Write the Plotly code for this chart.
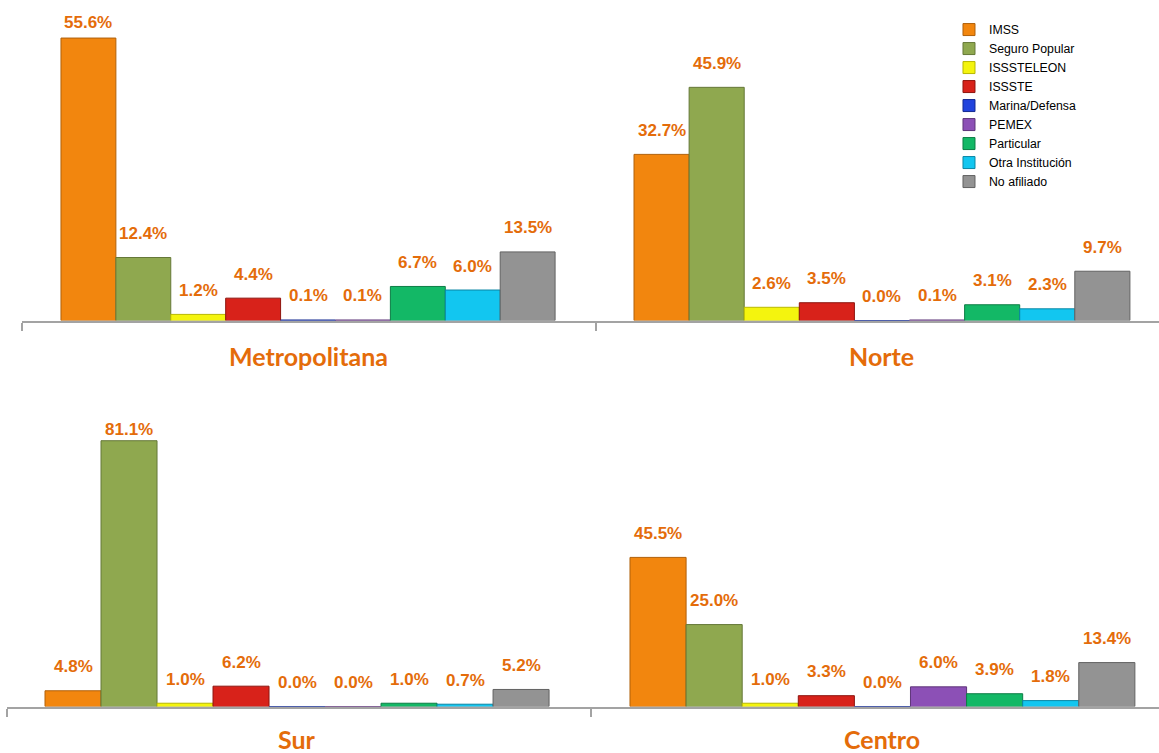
import plotly.graph_objects as go

# Coverage by institution, percentage of respondents per region
institutions = ["IMSS", "Seguro Popular", "ISSSTELEON", "ISSSTE", "Marina/Defensa",
                "PEMEX", "Particular", "Otra Institución", "No afiliado"]
regions = ["Metropolitana", "Norte", "Sur", "Centro"]

metropolitana = [55.6, 12.4, 1.2, 4.4, 0.1, 0.1, 6.7, 6.0, 13.5]
norte = [32.7, 45.9, 2.6, 3.5, 0.0, 0.1, 3.1, 2.3, 9.7]
sur = [4.8, 81.1, 1.0, 6.2, 0.0, 0.0, 1.0, 0.7, 5.2]
centro = [45.5, 25.0, 1.0, 3.3, 0.0, 6.0, 3.9, 1.8, 13.4]

region_values = [metropolitana, norte, sur, centro]

# Bar fills and darker outlines, one pair per institution
fills = ["#F2860E", "#8FA84F", "#F4F40E", "#D8221A", "#2143DD",
         "#8C50B6", "#13B866", "#12C6F0", "#939393"]
edges = ["#B0600A", "#657838", "#B8B800", "#8E150F", "#142A90",
         "#5E3579", "#0C7D45", "#0A86A4", "#626262"]

LABEL = "#E46C0A"
AXIS = "#A3A3A3"
W, H = 1159, 753

# Panel geometry in pixels: x-domain, x-range, baseline, y-range,
# px per percentage point, highest allowed label centre, title offset
panels = [
    dict(dom=(22, 595.5), xr=(-1.210, 9.236), base=320.5, ymax=58, k=5.08, top=297.5, title=-35, ticks="both"),
    dict(dom=(595.5, W), xr=(-1.199, 9.028), base=320.5, ymax=58, k=5.08, top=297.5, title=-35, ticks="left"),
    dict(dom=(6.5, 590.5), xr=(-1.1875, 9.24), base=706.5, ymax=88, k=3.277, top=276.5, title=-32, ticks="both"),
    dict(dom=(590.5, W), xr=(-1.204, 8.93), base=706.5, ymax=88, k=3.277, top=276.5, title=-32, ticks="left"),
]

fig = go.Figure()
annotations = []

for p_i, (region, values, p) in enumerate(zip(regions, region_values, panels)):
    sfx = "" if p_i == 0 else str(p_i + 1)
    xa, ya = "x" + sfx, "y" + sfx
    for i, (name, v) in enumerate(zip(institutions, values)):
        fig.add_trace(go.Bar(
            x=[i], y=[v], width=1, name=name,
            marker=dict(color=fills[i], line=dict(color=edges[i], width=1)),
            xaxis=xa, yaxis=ya, legendgroup=name, showlegend=(p_i == 0),
            hovertemplate=f"{region}<br>{name}: %{{y:.1f}}%<extra></extra>",
        ))
        # value label above the bar, kept inside the panel's label band
        shift = min(24, p["top"] - v * p["k"])
        annotations.append(dict(
            x=i, y=v, xref=xa, yref=ya, text=f"{v:.1f}%", showarrow=False,
            yshift=shift, yanchor="middle",
            font=dict(family="Liberation Sans, Arial, sans-serif", size=17, color=LABEL, weight="bold"),
        ))
    # region name under the axis
    annotations.append(dict(
        x=4, y=0, xref=xa, yref=ya + " domain", text=f"<b>{region}</b>", showarrow=False,
        yshift=p["title"], yanchor="middle",
        font=dict(family="Lato, Open Sans, sans-serif", size=25, color=LABEL),
    ))

    lo, hi = p["xr"]
    tickvals = [lo, hi] if p["ticks"] == "both" else [lo]
    y0 = (H - p["base"]) / H
    y1 = (H - p["base"] + p["ymax"] * p["k"]) / H
    fig.layout["xaxis" + sfx] = dict(
        domain=[p["dom"][0] / W, p["dom"][1] / W], range=[lo, hi], anchor=ya,
        showgrid=False, zeroline=False, showline=True, linecolor=AXIS, linewidth=2,
        ticks="outside", ticklen=8, tickwidth=2, tickcolor=AXIS,
        tickvals=tickvals, showticklabels=False, fixedrange=True,
    )
    fig.layout["yaxis" + sfx] = dict(
        domain=[y0, y1], range=[0, p["ymax"]], anchor=xa, visible=False, fixedrange=True,
    )

fig.update_layout(
    width=W, height=H,
    margin=dict(l=0, r=0, t=0, b=0),
    paper_bgcolor="white", plot_bgcolor="rgba(0,0,0,0)",
    barmode="overlay",
    annotations=annotations,
    showlegend=True,
    legend=dict(
        x=0.8188, y=0.980, xanchor="left", yanchor="top",
        font=dict(family="Liberation Sans, Arial, sans-serif", size=12.3, color="#000000"),
        bgcolor="rgba(0,0,0,0)", itemwidth=30, tracegroupgap=0,
    ),
)

fig.write_html("out.html")
